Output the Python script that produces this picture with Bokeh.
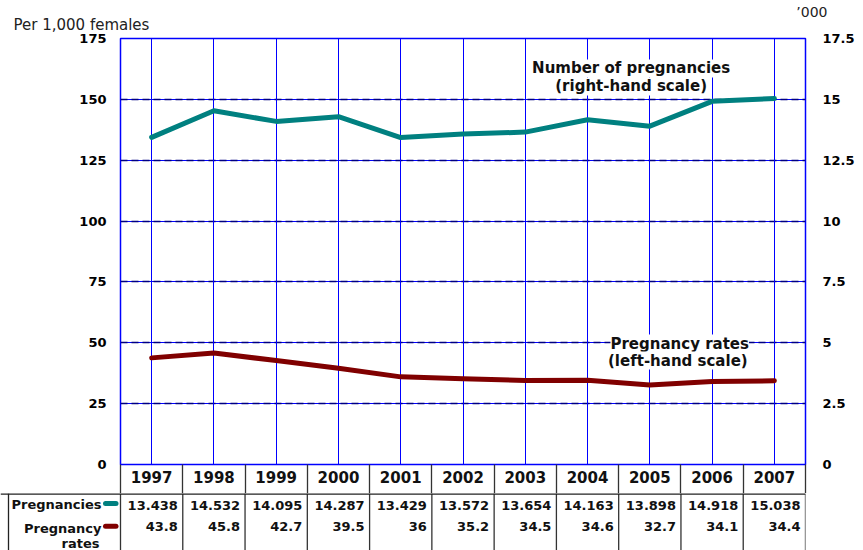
from bokeh.plotting import figure
from bokeh.models import (Range1d, LinearAxis, FixedTicker, Grid, Label, Title,
                          CustomJSTickFormatter)
from bokeh.core.properties import value
from bokeh.embed import file_html
from bokeh.resources import INLINE

# ---------------- data ----------------
years = ["1997", "1998", "1999", "2000", "2001", "2002", "2003", "2004", "2005", "2006", "2007"]
pregnancies = [13.438, 14.532, 14.095, 14.287, 13.429, 13.572, 13.654, 14.163, 13.898, 14.918, 15.038]
pregnancy_rates = [43.8, 45.8, 42.7, 39.5, 36, 35.2, 34.5, 34.6, 32.7, 34.1, 34.4]
pregnancy_labels = ["13.438", "14.532", "14.095", "14.287", "13.429", "13.572", "13.654", "14.163", "13.898", "14.918", "15.038"]
rate_labels = ["43.8", "45.8", "42.7", "39.5", "36", "35.2", "34.5", "34.6", "32.7", "34.1", "34.4"]
left_ticks = [0, 25, 50, 75, 100, 125, 150, 175]
right_ticks = [0, 2.5, 5, 7.5, 10, 12.5, 15, 17.5]

FONT = "DejaVu Sans"
TEAL = "#008080"
MAROON = "#800000"
TXT = "#111111"
SEP = "#333333"
GRID_BLUE = "#0000FF"

n = len(years)
FW, FH = 685, 426
LB, RB, TB, BB = 120, 58, 38, 29
unit = FW / n
xs = [i + 0.5 for i in range(n)]
bounds = list(range(n + 1))

# ---------------- main chart ----------------
p = figure(frame_width=FW, frame_height=FH,
           x_range=Range1d(0, n), y_range=Range1d(left_ticks[0], left_ticks[-1]),
           x_axis_location=None, output_backend="svg", toolbar_location=None,
           min_border_left=LB, min_border_right=RB, min_border_top=TB, min_border_bottom=BB,
           background_fill_color="white", border_fill_color="white",
           title="\u2019000")
p.extra_y_ranges = {"right": Range1d(right_ticks[0], right_ticks[-1])}
p.grid.visible = False
p.outline_line_color = GRID_BLUE
p.outline_line_width = 1.5

p.title.align = "right"
p.title.offset = -22
p.title.standoff = -20
p.title.text_font = FONT
p.title.text_font_style = "normal"
p.title.text_font_size = "14px"
p.title.text_color = "#222222"

p.add_layout(Title(text="Per 1,000 females", align="left", offset=-107, standoff=9, text_font=FONT,
                   text_font_style="normal", text_font_size="15px", text_color="#222222"), "above")

# grids: horizontal (blue with navy dashes), then vertical (blue)
p.add_layout(Grid(dimension=1, ticker=FixedTicker(ticks=left_ticks[:-1]), grid_line_color=GRID_BLUE, grid_line_width=1))
p.add_layout(Grid(dimension=1, ticker=FixedTicker(ticks=left_ticks[:-1]), grid_line_color="#000080",
                  grid_line_width=1.5, grid_line_dash="7 4"))
p.add_layout(Grid(dimension=0, ticker=FixedTicker(ticks=xs), grid_line_color=GRID_BLUE,
                  grid_line_width=1, grid_line_dash="solid"))

def style_axis(ax, standoff, size="13px"):
    ax.axis_line_color = None
    ax.major_tick_in = 0
    ax.major_tick_out = 0
    ax.minor_tick_in = 0
    ax.minor_tick_out = 0
    ax.major_label_standoff = standoff
    ax.major_label_text_font = FONT
    ax.major_label_text_font_style = "bold"
    ax.major_label_text_font_size = size
    ax.major_label_text_color = "black"

yl = p.yaxis[0]
yl.ticker = FixedTicker(ticks=left_ticks)
style_axis(yl, 14)

yr = LinearAxis(y_range_name="right", ticker=FixedTicker(ticks=right_ticks),
                formatter=CustomJSTickFormatter(code="return tick.toString();"))
style_axis(yr, 17)
p.add_layout(yr, "right")

# year row of the table: year labels at category centres, column separators as minor ticks
xa = LinearAxis(ticker=FixedTicker(ticks=xs, minor_ticks=bounds),
                formatter=CustomJSTickFormatter(args=dict(labels=years), code="return labels[index];"))
style_axis(xa, 6 - BB, "15px")
xa.major_label_text_color = TXT
xa.minor_tick_out = BB
xa.minor_tick_line_color = SEP
xa.minor_tick_line_width = 1.3
p.add_layout(xa, "below")

p.line(xs, pregnancy_rates, line_color=MAROON, line_width=5, line_join="round", line_cap="round")
p.line(xs, pregnancies, y_range_name="right", line_color=TEAL, line_width=5, line_join="round", line_cap="round")

def lab(text, x, y):
    p.add_layout(Label(x=x, y=y, text=text, text_font=FONT, text_font_size="15px",
                       text_font_style="bold", text_color=TXT, text_align="center",
                       text_baseline="middle", background_fill_color="white",
                       background_fill_alpha=1.0))

lab("Number of pregnancies", 8.2, 162.7)
lab("(right-hand scale)", 8.2, 155.3)
lab("Pregnancy rates", 8.98, 49.7)
lab("(left-hand scale)", 8.95, 42.7)

# ---------------- data rows of the table ----------------
TH = 57
left_ext = LB / unit
t = figure(frame_width=FW + LB, frame_height=TH,
           x_range=Range1d(-left_ext, n), y_range=Range1d(TH, 0),
           x_axis_location=None, y_axis_location=None,
           output_backend="svg", toolbar_location=None,
           min_border_left=0, min_border_right=RB, min_border_top=0, min_border_bottom=0,
           background_fill_color="white", border_fill_color="white")
t.grid.visible = False
t.outline_line_color = None

t.segment(x0=bounds, y0=[0] * len(bounds), x1=bounds, y1=[TH] * len(bounds), line_color=SEP, line_width=1.3)
t.segment(x0=[-left_ext], y0=[0], x1=[n], y1=[0], line_color="#222222", line_width=2.6)
t.segment(x0=[-left_ext + 8 / unit], y0=[0], x1=[-left_ext + 8 / unit], y1=[TH], line_color="#222222", line_width=1.3)

cell_right = [i + 1 for i in range(n)]
common = dict(text_font=value(FONT), text_font_style="bold", text_color=TXT, text_align="right",
              text_baseline="middle", text_font_size="13px")
t.text(x=cell_right, y=[12] * n, text=pregnancy_labels, x_offset=-5, **common)
t.text(x=cell_right, y=[33] * n, text=rate_labels, x_offset=-5, **common)

t.text(x=[0], y=[11], text=["Pregnancies"], x_offset=-19, **common)
t.text(x=[0], y=[35], text=["Pregnancy"], x_offset=-19, **common)
t.text(x=[0], y=[50], text=["rates"], x_offset=-21, **common)

sw0, sw1 = -15 / unit, -4.5 / unit
t.segment(x0=[sw0], y0=[10], x1=[sw1], y1=[10], line_color=TEAL, line_width=5, line_cap="round")
t.segment(x0=[sw0], y0=[32.7], x1=[sw1], y1=[32.7], line_color=MAROON, line_width=5, line_cap="round")

open("out.html", "w").write(file_html([p, t], INLINE))
